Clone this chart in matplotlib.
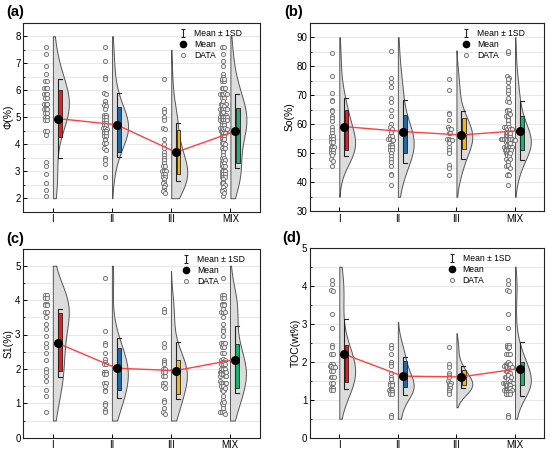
import numpy as np
import matplotlib
matplotlib.use('Agg')
import matplotlib.pyplot as plt
from matplotlib.lines import Line2D
from matplotlib.patches import Rectangle
from matplotlib.path import Path
from matplotlib.ticker import MultipleLocator

plt.rcParams['font.family'] = ['Liberation Sans', 'DejaVu Sans']

groups = ['I', 'II', 'III', 'MIX']
box_colors = ['#f01c1c', '#1f6aa5', '#f5b50a', '#14b46a']

# ---- (a) porosity ----
phi_I = [7.6, 7.35, 6.9, 6.6, 6.35, 6.35, 6.1, 6.1, 6.1, 5.85, 5.85, 5.85, 5.7, 5.7,
         5.5, 5.5, 5.5, 5.3, 5.3, 5.3, 5.15, 5.15, 5.0, 5.0, 4.9, 4.9, 4.5, 4.5, 4.35,
         3.35, 3.2, 2.9, 2.55, 2.3, 2.1]
phi_II = [7.6, 7.1, 6.5, 6.4, 5.9, 5.85, 5.6, 5.5, 5.45, 5.4, 5.3, 5.1, 5.1, 5.0, 5.0,
          4.9, 4.9, 4.8, 4.8, 4.7, 4.7, 4.6, 4.6, 4.55, 4.5, 4.5, 4.4, 4.4, 4.3, 4.3,
          4.2, 4.15, 4.05, 4.05, 3.85, 3.8, 3.5, 3.4, 3.25, 2.8]
phi_III = [6.4, 5.3, 5.2, 5.0, 4.9, 4.6, 4.55, 4.2, 4.0, 3.85, 3.7, 3.6, 3.5, 3.4, 3.3,
           3.2, 3.2, 3.0, 3.0, 3.0, 2.9, 2.9, 2.8, 2.8, 2.7, 2.6, 2.55, 2.5, 2.4, 2.3,
           2.25, 2.2]
phi_mean = [4.95, 4.72, 3.70, 4.48]
phi_sd = [1.45, 1.18, 1.07, 1.37]
phi_q1 = [4.25, 3.70, 2.90, 3.30]
phi_q3 = [6.00, 5.38, 4.52, 5.35]
phi_lo = [2.0, 2.0, 2.0, 2.0]
phi_hi = [8.0, 8.0, 7.5, 8.0]

# ---- (b) oil saturation ----
so_I = [84.4, 76.5, 70.8, 68.2, 68.0, 65.0, 64.5, 63.0, 62.0, 61.0, 59.0, 58.0, 57.0,
        56.0, 56.0, 55.0, 55.0, 54.0, 54.0, 52.0, 52.0, 52.0, 51.0, 51.0, 50.0, 50.0,
        49.5, 48.0, 47.5, 45.5]
so_II = [85.3, 76.0, 74.5, 73.0, 69.0, 67.5, 65.0, 63.0, 60.0, 59.0, 58.5, 57.5, 56.0,
         56.0, 55.0, 55.0, 54.5, 54.5, 53.0, 53.0, 52.0, 52.0, 51.0, 51.0, 50.0, 49.0,
         48.0, 47.0, 45.5, 43.0, 42.5, 39.0]
so_III = [75.5, 71.7, 64.0, 63.5, 61.5, 59.0, 58.5, 58.5, 57.0, 57.0, 55.0, 55.0, 54.5,
          54.5, 53.5, 52.0, 51.0, 50.0, 46.0, 45.0, 42.5]
so_mean = [59.2, 57.5, 56.3, 57.8]
so_sd = [10.0, 11.0, 8.3, 10.2]
so_q1 = [51.0, 50.0, 51.5, 51.0]
so_q3 = [64.8, 63.2, 62.0, 63.0]
so_lo = [35.0, 35.0, 35.0, 35.0]
so_hi = [90.0, 90.0, 85.5, 90.0]

# ---- (c) S1 ----
s1_I = [4.15, 4.15, 4.05, 4.05, 3.9, 3.9, 3.85, 3.85, 3.65, 3.65, 3.5, 3.3, 3.15, 2.95,
        2.75, 2.65, 2.45, 2.25, 2.0, 1.9, 1.8, 1.65, 1.4, 1.2, 0.75]
s1_II = [4.65, 3.1, 2.75, 2.7, 2.45, 2.3, 2.2, 2.15, 2.15, 1.9, 1.9, 1.85, 1.85, 1.6,
         1.6, 1.5, 1.4, 1.35, 1.0, 0.95, 0.8, 0.75]
s1_III = [3.75, 3.65, 2.75, 2.65, 2.25, 2.2, 2.15, 2.0, 2.0, 1.9, 1.9, 1.8, 1.8, 1.6,
          1.6, 1.5, 1.45, 1.1, 1.05, 0.85, 0.75, 0.7]
s1_mean = [2.75, 2.02, 1.95, 2.27]
s1_sd = [0.98, 0.87, 0.83, 0.97]
s1_q1 = [1.95, 1.40, 1.28, 1.45]
s1_q3 = [3.62, 2.62, 2.25, 2.73]
s1_lo = [0.5, 0.5, 0.5, 0.5]
s1_hi = [5.0, 5.0, 4.85, 5.0]

# ---- (d) TOC ----
toc_I = [4.15, 4.05, 3.9, 3.85, 3.25, 2.9, 2.45, 2.4, 2.2, 2.2, 1.95, 1.95, 1.9, 1.9,
         1.85, 1.85, 1.75, 1.75, 1.6, 1.6, 1.6, 1.45, 1.45, 1.3, 1.3, 1.25, 1.25]
toc_II = [2.45, 2.35, 2.2, 2.0, 1.95, 1.9, 1.7, 1.6, 1.55, 1.45, 1.45, 1.4, 1.4, 1.25,
          1.25, 1.25, 1.2, 1.2, 1.15, 1.15, 0.6, 0.55]
toc_III = [2.4, 1.95, 1.85, 1.7, 1.65, 1.6, 1.5, 1.45, 1.45, 1.4, 1.4, 1.3, 1.3, 1.25,
           1.2, 1.15]
toc_mean = [2.20, 1.62, 1.60, 1.82]
toc_sd = [0.93, 0.50, 0.28, 0.71]
toc_q1 = [1.47, 1.33, 1.38, 1.38]
toc_q3 = [2.43, 2.02, 1.77, 1.98]
toc_lo = [0.5, 0.5, 0.8, 0.5]
toc_hi = [4.5, 3.05, 2.75, 4.5]

# I-beam marker for the "Mean ± 1SD" legend entry
ibeam = Path([(-0.5, 1), (0.5, 1), (0, 1), (0, -1), (-0.5, -1), (0.5, -1)],
             [Path.MOVETO, Path.LINETO, Path.MOVETO, Path.LINETO, Path.MOVETO, Path.LINETO])


def draw_panel(ax, sets, means, sds, q1, q3, lo, hi, ylim, major, ylabel, leg_x):
    xs_mean = []
    for i, vals in enumerate(sets):
        c = i + 1
        vals = np.asarray(vals, dtype=float)
        # raw data, spread sideways where values coincide
        step = (ylim[1] - ylim[0]) / 75
        keys = np.round(vals / step)
        xs = np.empty(len(vals))
        for key in np.unique(keys):
            idx = np.where(keys == key)[0]
            m = len(idx)
            xs[idx] = c - 0.12 + (np.arange(m) - (m - 1) / 2) * 0.028
        ax.plot(xs, vals, 'o', ms=3.0, mfc='#efefef', mec='#6a6a6a', mew=0.6, zorder=3)

        # half violin (gaussian kde)
        yy = np.linspace(lo[i], hi[i], 300)
        h = 1.1 * 1.06 * vals.std(ddof=1) * len(vals) ** -0.2
        dens = np.exp(-0.5 * ((yy[:, None] - vals[None, :]) / h) ** 2).sum(axis=1)
        w = dens / dens.max() * 0.27
        ax.fill_betweenx(yy, c, c + w, facecolor='#dcdcdc', edgecolor='#555555',
                         lw=0.7, zorder=2)

        # mean +- 1SD bracket
        xb = c + 0.08
        top, bot = means[i] + sds[i], means[i] - sds[i]
        ax.plot([xb + 0.07, xb, xb, xb + 0.07], [top, top, bot, bot],
                color='#222222', lw=0.8, zorder=4)
        # interquartile box
        ax.add_patch(Rectangle((c + 0.09, q1[i]), 0.065, q3[i] - q1[i],
                               facecolor=box_colors[i], edgecolor='#222222',
                               lw=0.6, zorder=4))
        xs_mean.append(xb)

    ax.plot(xs_mean, means, color='#ff4040', lw=1.0, zorder=5)
    ax.plot(xs_mean, means, 'o', color='black', ms=5.5, zorder=6)

    ax.set_xlim(0.5, 4.5)
    ax.set_ylim(*ylim)
    ax.set_xticks([1, 2, 3, 4])
    ax.set_xticklabels(groups)
    ax.yaxis.set_major_locator(MultipleLocator(major))
    ax.yaxis.set_minor_locator(MultipleLocator(major / 2))
    ax.grid(True, which='both', axis='y', color='#e3e3e3', lw=0.6, zorder=0)
    ax.set_axisbelow(True)
    ax.tick_params(direction='in', length=3, width=0.7, labelsize=7, pad=2)
    ax.tick_params(which='minor', direction='in', length=1.5, width=0.6)
    ax.tick_params(axis='x', which='minor', length=0)
    for sp in ax.spines.values():
        sp.set_linewidth(0.8)
        sp.set_color('#222222')
    ax.set_ylabel(ylabel, fontsize=7.5, labelpad=1)

    sd_h = Line2D([], [], ls='none', marker=ibeam, ms=6, mfc='none', mec='#222222',
                  mew=0.8, label='Mean \u00b1 1SD')
    mean_h = Line2D([], [], ls='none', marker='o', color='black', ms=4.5, label='Mean')
    data_h = Line2D([], [], ls='none', marker='o', ms=3.0, mfc='#efefef', mec='#6a6a6a',
                    mew=0.6, label='DATA')
    ax.legend(handles=[sd_h, mean_h, data_h], loc='upper left',
              bbox_to_anchor=(leg_x, 1.0), frameon=False, fontsize=6.2,
              handlelength=1.0, handletextpad=0.8, labelspacing=0.25, borderpad=0.2)


fig = plt.figure(figsize=(5.5, 4.54), dpi=100)
W, H = 550, 454


def add_axes(left, top, right, bottom):
    return fig.add_axes([left / W, 1 - bottom / H, (right - left) / W, (bottom - top) / H])


ax_a = add_axes(23.3, 22.7, 260, 211.7)
ax_b = add_axes(310, 22.7, 544.3, 211.3)
ax_c = add_axes(23.3, 248.5, 259.5, 437.7)
ax_d = add_axes(310, 247.7, 544.3, 437.7)

draw_panel(ax_a, [phi_I, phi_II, phi_III, phi_I + phi_II + phi_III],
           phi_mean, phi_sd, phi_q1, phi_q3, phi_lo, phi_hi,
           (1.5, 8.5), 1, '\u03a6(%)', 0.63)
draw_panel(ax_b, [so_I, so_II, so_III, so_I + so_II + so_III],
           so_mean, so_sd, so_q1, so_q3, so_lo, so_hi,
           (30, 95), 10, 'So(%)', 0.62)
draw_panel(ax_c, [s1_I, s1_II, s1_III, s1_I + s1_II + s1_III],
           s1_mean, s1_sd, s1_q1, s1_q3, s1_lo, s1_hi,
           (0, 5.5), 1, 'S1(%)', 0.645)
draw_panel(ax_d, [toc_I, toc_II, toc_III, toc_I + toc_II + toc_III],
           toc_mean, toc_sd, toc_q1, toc_q3, toc_lo, toc_hi,
           (0, 5), 1, 'TOC(wt%)', 0.56)

for tag, x, y in [('(a)', 6, 5), ('(b)', 284, 5), ('(c)', 6, 232), ('(d)', 282, 231)]:
    fig.text(x / W, 1 - y / H, tag, fontsize=10.5, fontweight='bold', ha='left', va='top')

fig.savefig('out.png', dpi=100)
